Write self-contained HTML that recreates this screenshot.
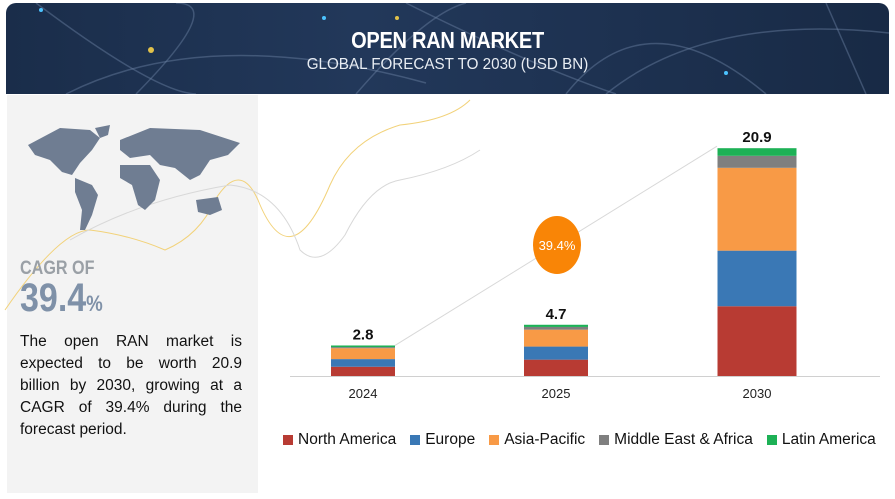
<!DOCTYPE html>
<html><head><meta charset="utf-8"><style>
body{margin:0;width:895px;height:499px;background:#fff;font-family:"Liberation Sans",sans-serif;overflow:hidden;position:relative}
#hdr{position:absolute;left:6px;top:3px;width:883px;height:91px;border-radius:10px 10px 0 0;background:linear-gradient(90deg,#1a2d4a,#22385a 40%,#1d3150 70%,#182a45);overflow:hidden}
#t1{position:absolute;top:24px;width:100%;text-align:center;color:#fff;font-weight:bold;font-size:23px;transform:scaleX(.87);letter-spacing:-0.3px}
#t2{position:absolute;top:53px;width:100%;text-align:center;color:#e8edf3;font-size:16px;transform:scaleX(.95)}
#left{position:absolute;left:7px;top:95px;width:251px;height:398px;background:#f3f3f3}
#cagr1{position:absolute;left:20px;top:258px;color:#9aa0a6;font-weight:bold;font-size:19px;transform:scaleX(.85);transform-origin:left}
#cagr2{position:absolute;left:20px;top:276px;color:#7f91a8;font-weight:bold;font-size:40px;transform:scaleX(.85);transform-origin:left}
#cagr2 span{font-size:22px}
#desc{position:absolute;left:20px;top:331px;width:222px;font-size:15.5px;line-height:22px;color:#111;text-align:justify;text-align-last:left}
#legend{position:absolute;left:283px;top:431px;width:620px;font-size:15.5px;color:#111;display:flex;white-space:nowrap}
.li{display:flex;align-items:center;margin-right:14px;flex:none}
.sw{width:10px;height:10px;margin-right:5px}
</style></head><body>
<div id="hdr">
<svg width="883" height="91" style="position:absolute;left:0;top:0">
<g fill="none" stroke="#6d83a3" stroke-opacity=".45" stroke-width="1.5">
<path d="M30 0 Q150 90 190 91"/><path d="M60 91 Q200 20 420 80"/><path d="M130 91 Q220 0 170 0"/>
<path d="M560 91 Q640 -10 760 91"/><path d="M600 91 Q700 10 883 30"/><path d="M400 0 Q520 60 610 91"/>
<path d="M820 0 L860 91"/><path d="M350 91 Q420 10 460 0"/>
</g>
<circle cx="145" cy="47" r="3" fill="#e2c24a"/><circle cx="35" cy="7" r="2" fill="#4cc3ff"/><circle cx="318" cy="15" r="2" fill="#4cc3ff"/><circle cx="391" cy="15" r="2" fill="#e2c24a"/><circle cx="720" cy="70" r="2" fill="#4cc3ff"/>
</svg>
<div id="t1">OPEN RAN MARKET</div>
<div id="t2">GLOBAL FORECAST TO 2030 (USD BN)</div>
</div>
<div id="left"></div>
<svg width="895" height="499" style="position:absolute;left:0;top:0">
<path d="M5 310 Q60 230 90 230 Q130 235 165 250 Q200 235 215 200 Q240 160 258 200 Q290 280 330 185 Q350 140 400 125 Q450 120 470 100" fill="none" stroke="#f2d27a" stroke-width="1"/>
<path d="M70 240 Q140 200 230 185 Q280 190 300 250 Q320 270 345 235 Q370 185 400 180 Q450 170 480 150" fill="none" stroke="#d8d8d8" stroke-width="1"/>
<g fill="#6f7d92">
<path d="M28 145 L60 128 L90 130 L100 138 L92 150 L80 163 L72 175 L62 172 L50 160 L35 155 Z"/>
<path d="M75 178 L92 185 L98 195 L92 215 L85 230 L80 230 L82 210 L75 192 Z"/>
<path d="M95 128 L110 125 L108 135 L100 138 Z"/>
<path d="M120 140 L150 128 L200 130 L240 143 L228 155 L210 160 L200 175 L190 180 L175 168 L160 165 L150 155 L130 158 L120 150 Z"/>
<path d="M120 165 L150 165 L160 180 L155 200 L145 210 L138 205 L132 185 L120 178 Z"/>
<path d="M196 200 L218 197 L222 210 L210 215 L198 212 Z"/>
</g>
</svg>
<div id="cagr1">CAGR OF</div>
<div id="cagr2">39.4<span>%</span></div>
<div id="desc">The open RAN market is expected to be worth 20.9 billion by 2030, growing at a CAGR of 39.4% during the forecast period.</div>
<svg id="chart" width="895" height="499" style="position:absolute;left:0;top:0"></svg>
<div id="legend"></div>
<script>
const years = ["2024","2025","2030"];
const totals = ["2.8","4.7","20.9"];
const seriesNames = ["North America","Europe","Asia-Pacific","Middle East & Africa","Latin America"];
const northAmerica = [0.85,1.5,6.4];
const europe = [0.7,1.2,5.1];
const asiaPacific = [1.0,1.55,7.6];
const middleEast = [0.1,0.25,1.1];
const latinAmerica = [0.15,0.2,0.7];
const colors=["#b83b33","#3a78b5","#f89a46","#7f7f7f","#1db156"];
const series=[northAmerica,europe,asiaPacific,middleEast,latinAmerica];
const ns="http://www.w3.org/2000/svg";
const svg=document.getElementById('chart');
const base=376, scale=10.9;
const y=v=>base-v*scale;
const centers=[363,556,757], widths=[64,64,79];
const xOf=i=>centers[i];
function mk(t,a){const e=document.createElementNS(ns,t);for(const k in a)e.setAttribute(k,a[k]);svg.appendChild(e);return e;}
const ax=mk('line',{x1:290,x2:880,y1:base+0.5,y2:base+0.5,stroke:'#d0d0d0','stroke-width':1});


const tops=years.map((_,i)=>series.reduce((s,a)=>s+a[i],0));
const ar=mk('line',{x1:xOf(0)+32,y1:y(tops[0]),x2:xOf(2)-40,y2:y(tops[2])-2,stroke:'#d8d8d8','stroke-width':1});


years.forEach((yr,i)=>{
  let acc=0;
  series.forEach((arr,s)=>{
    const r=mk('rect',{x:xOf(i)-widths[i]/2,y:y(acc+arr[i]),width:widths[i],height:arr[i]*scale,fill:colors[s]});
    
    
    acc+=arr[i];
  });
  const t=mk('text',{x:xOf(i),y:y(acc)-6,'text-anchor':'middle','font-size':15,'font-weight':'bold',fill:'#111'});
  t.textContent=totals[i];
  
  
  const l=mk('text',{x:xOf(i),y:398,'text-anchor':'middle','font-size':13,fill:'#222'});
  l.textContent=yr;
  
  
});
const c=mk('ellipse',{cx:557,cy:245,rx:24,ry:29,fill:'#f98506'});


const ct=mk('text',{x:557,y:250,'text-anchor':'middle','font-size':13,fill:'#fff'});
ct.textContent='39.4%';


const lg=document.getElementById('legend');
seriesNames.forEach((n,s)=>{
  const d=document.createElement('div');d.className='li';
  
  
  d.innerHTML='<div class="sw" style="background:'+colors[s]+'"></div>'+n.replace('&','&amp;');
  lg.appendChild(d);
});
</script>
</body></html>
